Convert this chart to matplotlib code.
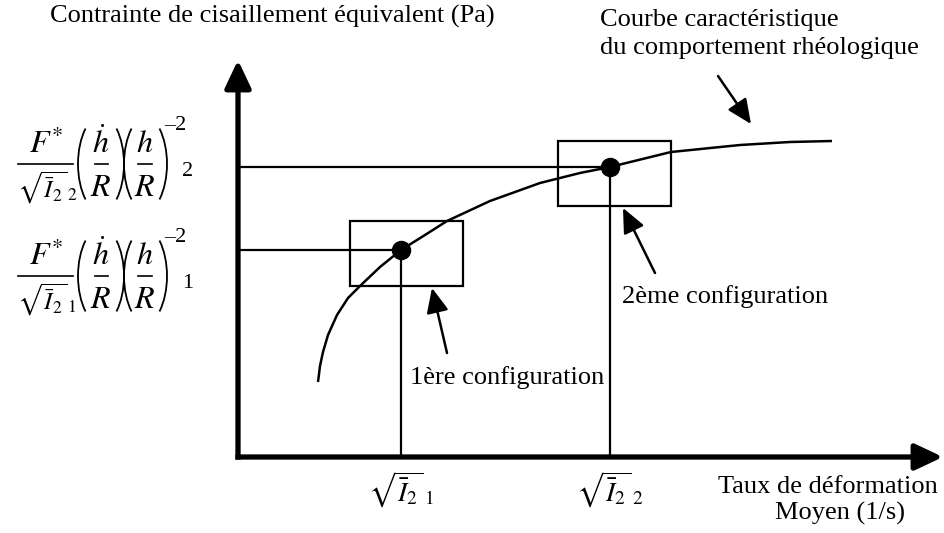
import matplotlib
matplotlib.use('Agg')
import matplotlib.pyplot as plt
from matplotlib.patches import Rectangle, Arc

plt.rcParams['font.family'] = ['Liberation Serif', 'DejaVu Serif']
plt.rcParams['mathtext.fontset'] = 'stix'

# schematic drawn in picture units (x right, y down)
curve_x = [318, 320, 323, 328, 337, 348, 360, 380, 401, 425, 447, 490, 540, 580, 610, 671, 740, 790, 832]
curve_y = [382, 366, 352, 335, 315, 298, 286, 267, 250, 235, 221, 201, 183, 173, 167, 152, 145, 142, 141]

config_x = [401, 610]
config_y = [250, 167]
box_left = [350, 558]
box_top = [221, 141]
box_w = 113
box_h = 65

x_tick_labels = [r'$\sqrt{\bar{I}_{2}}_{\,1}$', r'$\sqrt{\bar{I}_{2}}_{\,2}$']
# y labels: F*/sqrt(I2) (hdot/R)(h/R)^-2, one per configuration
y_label_bar = [276, 164]
y_label_index = ['1', '2']

origin = (238, 457)
x_end = 943
y_end = 60

fig = plt.figure(figsize=(9.45, 5.33), dpi=100)
ax = fig.add_axes([0, 0, 1, 1])
ax.set_xlim(0, 945)
ax.set_ylim(533, 0)
ax.axis('off')


def paren(x0, yc, left=True):
	""" thin tall parenthesis drawn as an elliptic arc """
	w, h = 56, 104
	if left:
		ax.add_patch(Arc((x0 + w / 2, yc), w, h, theta1=120, theta2=240, lw=1.3, color='black'))
	else:
		ax.add_patch(Arc((x0 - w / 2, yc), w, h, theta1=-60, theta2=60, lw=1.3, color='black'))


def formula(yb, idx):
	""" F*/sqrt(I2)_idx (hdot/R)(h/R)^-2 idx """
	ax.text(46, yb - 19, r'$F^{*}$', ha='center', va='center', fontsize=23)
	ax.plot([18, 73], [yb, yb], color='black', lw=1.2)
	ax.text(47, yb + 24, r'$\sqrt{\bar{I}_{2}}_{\,%s}$' % idx, ha='center', va='center', fontsize=18)
	paren(78, yb, True)
	ax.text(101, yb - 20, r'$\dot{h}$', ha='center', va='center', fontsize=23)
	ax.plot([95, 108], [yb, yb], color='black', lw=1.2)
	ax.text(101, yb + 24, r'$R$', ha='center', va='center', fontsize=23)
	paren(124, yb, False)
	paren(124, yb, True)
	ax.text(145, yb - 20, r'$h$', ha='center', va='center', fontsize=23)
	ax.plot([138, 152], [yb, yb], color='black', lw=1.2)
	ax.text(145, yb + 24, r'$R$', ha='center', va='center', fontsize=23)
	paren(167, yb, False)
	ax.text(175, yb - 38, '–2', ha='center', va='center', fontsize=16)
	ax.text(188, yb + 8, idx, ha='center', va='center', fontsize=16)


# axes with arrows
axis_kw = dict(arrowstyle='-|>,head_width=0.4,head_length=0.85', lw=3.8, color='black',
               shrinkA=0, shrinkB=0, mutation_scale=20, capstyle='butt')
ax.annotate('', xy=(x_end, origin[1]), xytext=(origin[0] - 2.6, origin[1]), arrowprops=axis_kw)
ax.annotate('', xy=(origin[0], y_end), xytext=(origin[0], origin[1] + 2.6), arrowprops=axis_kw)

# characteristic curve
ax.plot(curve_x, curve_y, color='black', lw=1.8, solid_capstyle='butt', solid_joinstyle='round')

# configurations
for cx, cy, bl, bt in zip(config_x, config_y, box_left, box_top):
	ax.plot([origin[0], cx], [cy, cy], color='black', lw=1.6)
	ax.plot([cx, cx], [cy, origin[1]], color='black', lw=1.6)
	ax.add_patch(Rectangle((bl, bt), box_w, box_h, fill=False, lw=1.6, ec='black'))
	ax.plot(cx, cy, 'o', color='black', ms=13)

# x tick labels
for cx, lab in zip(config_x, x_tick_labels):
	ax.text(cx, 490, lab, ha='center', va='center', fontsize=20)

# y tick labels
for yb, idx in zip(y_label_bar, y_label_index):
	formula(yb, idx)

# annotation arrows
arrow_kw = dict(arrowstyle='-|>,head_width=0.45,head_length=1.0', lw=1.8, color='black',
                shrinkA=0, shrinkB=0, mutation_scale=15)
ax.annotate('', xy=(432, 288), xytext=(447, 353), arrowprops=arrow_kw)
ax.annotate('', xy=(623, 208), xytext=(655, 273), arrowprops=arrow_kw)
ax.annotate('', xy=(751, 124), xytext=(718, 76), arrowprops=arrow_kw)

# texts
ax.text(50, 16, 'Contrainte de cisaillement équivalent (Pa)', ha='left', va='center', fontsize=19)
ax.text(600, 20, 'Courbe caractéristique', ha='left', va='center', fontsize=19)
ax.text(600, 48, 'du comportement rhéologique', ha='left', va='center', fontsize=19)
ax.text(410, 378, '1ère configuration', ha='left', va='center', fontsize=19)
ax.text(622, 297, '2ème configuration', ha='left', va='center', fontsize=19)
ax.text(938, 487, 'Taux de déformation', ha='right', va='center', fontsize=19)
ax.text(840, 513, 'Moyen (1/s)', ha='center', va='center', fontsize=19)

fig.savefig('out.png', dpi=100)
